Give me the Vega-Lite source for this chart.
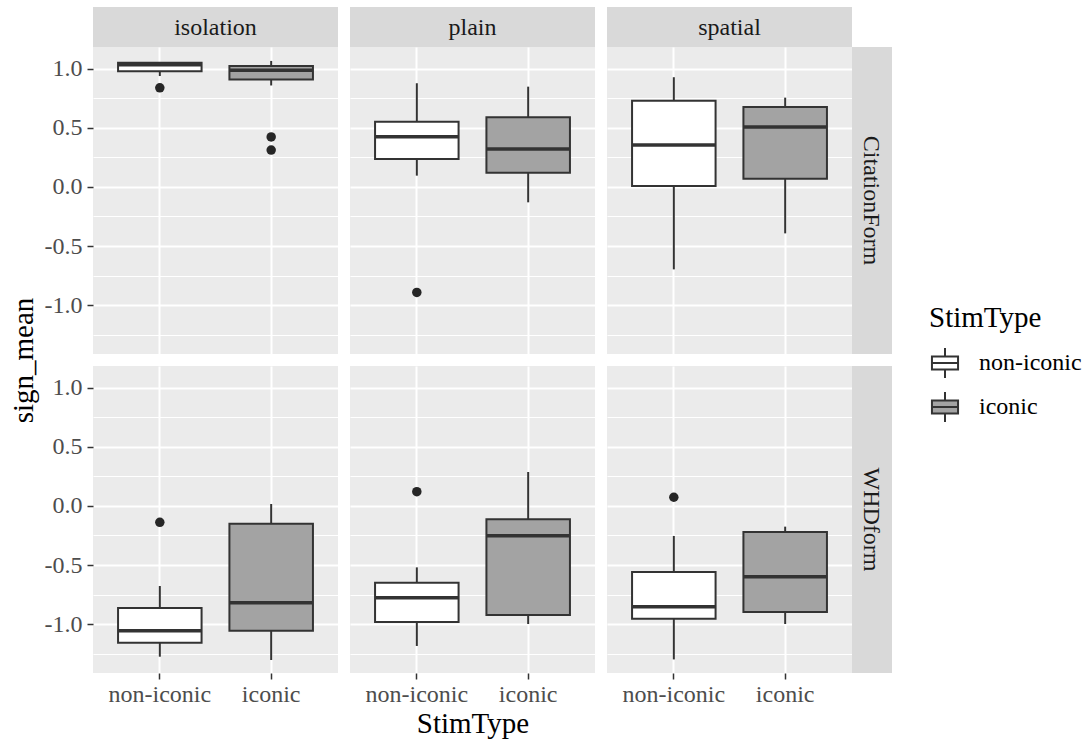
{
"$schema":"https://vega.github.io/schema/vega-lite/v6.json",
"padding":{"left":9,"top":7,"right":5,"bottom":3},
"autosize":{"type":"pad"},
"background":"#ffffff",
"datasets":{
"boxes":[
{"Task":"isolation","Form":"CitationForm","StimType":"non-iconic","lower":0.94,"q1":0.98,"median":1.035,"q3":1.053,"upper":1.053},
{"Task":"isolation","Form":"CitationForm","StimType":"iconic","lower":0.86,"q1":0.91,"median":0.99,"q3":1.025,"upper":1.068},
{"Task":"plain","Form":"CitationForm","StimType":"non-iconic","lower":0.096,"q1":0.237,"median":0.426,"q3":0.553,"upper":0.879},
{"Task":"plain","Form":"CitationForm","StimType":"iconic","lower":-0.13,"q1":0.121,"median":0.322,"q3":0.59,"upper":0.85},
{"Task":"spatial","Form":"CitationForm","StimType":"non-iconic","lower":-0.698,"q1":0.008,"median":0.356,"q3":0.731,"upper":0.93},
{"Task":"spatial","Form":"CitationForm","StimType":"iconic","lower":-0.393,"q1":0.07,"median":0.508,"q3":0.678,"upper":0.757},
{"Task":"isolation","Form":"WHDform","StimType":"non-iconic","lower":-1.277,"q1":-1.158,"median":-1.056,"q3":-0.864,"upper":-0.678},
{"Task":"isolation","Form":"WHDform","StimType":"iconic","lower":-1.305,"q1":-1.056,"median":-0.819,"q3":-0.15,"upper":0.017},
{"Task":"plain","Form":"WHDform","StimType":"non-iconic","lower":-1.186,"q1":-0.983,"median":-0.777,"q3":-0.65,"upper":-0.52},
{"Task":"plain","Form":"WHDform","StimType":"iconic","lower":-1.0,"q1":-0.924,"median":-0.252,"q3":-0.113,"upper":0.288},
{"Task":"spatial","Form":"WHDform","StimType":"non-iconic","lower":-1.3,"q1":-0.955,"median":-0.853,"q3":-0.559,"upper":-0.254},
{"Task":"spatial","Form":"WHDform","StimType":"iconic","lower":-1.0,"q1":-0.898,"median":-0.599,"q3":-0.22,"upper":-0.175}
],
"outliers":[
{"Task":"isolation","Form":"CitationForm","StimType":"non-iconic","sign_mean":0.84},
{"Task":"isolation","Form":"CitationForm","StimType":"iconic","sign_mean":0.424},
{"Task":"isolation","Form":"CitationForm","StimType":"iconic","sign_mean":0.313},
{"Task":"plain","Form":"CitationForm","StimType":"non-iconic","sign_mean":-0.893},
{"Task":"isolation","Form":"WHDform","StimType":"non-iconic","sign_mean":-0.138},
{"Task":"plain","Form":"WHDform","StimType":"non-iconic","sign_mean":0.121},
{"Task":"spatial","Form":"WHDform","StimType":"non-iconic","sign_mean":0.074}
]
},
"columns":6,
"spacing":0,
"bounds":"flush",
"align":"each",
"concat":[
{"width":245,"height":40,"view":{"fill":"#d9d9d9","stroke":null},"data":{"values":[{"label":"isolation"}]},"mark":{"type":"text","font":"Liberation Serif, Times New Roman, serif","fontSize":24,"color":"#1a1a1a","align":"center","baseline":"middle","dy":1},"encoding":{"text":{"field":"label"}}},
{"width":12,"height":12,"data":{"values":[]},"mark":"point"},
{"width":245,"height":40,"view":{"fill":"#d9d9d9","stroke":null},"data":{"values":[{"label":"plain"}]},"mark":{"type":"text","font":"Liberation Serif, Times New Roman, serif","fontSize":24,"color":"#1a1a1a","align":"center","baseline":"middle","dy":1},"encoding":{"text":{"field":"label"}}},
{"width":12,"height":12,"data":{"values":[]},"mark":"point"},
{"width":245,"height":40,"view":{"fill":"#d9d9d9","stroke":null},"data":{"values":[{"label":"spatial"}]},"mark":{"type":"text","font":"Liberation Serif, Times New Roman, serif","fontSize":24,"color":"#1a1a1a","align":"center","baseline":"middle","dy":1},"encoding":{"text":{"field":"label"}}},
{"width":12,"height":12,"data":{"values":[]},"mark":"point"},

{"width":245,"height":307,"view":{"fill":"#ebebeb","stroke":null},
"encoding":{"x":{"field":"StimType","type":"nominal","sort":["non-iconic","iconic"],"scale":{"type":"band","paddingInner":0.25,"paddingOuter":0.225},"axis":{"grid":true,"gridWidth":2,"labels":false,"ticks":false,"title":null,"bandPosition":0.5}}},
"layer":[
{"data":{"name":"boxes"},"transform":[{"filter":"datum.Task=='isolation' && datum.Form=='CitationForm'"}],"mark":{"type":"point","opacity":0},"encoding":{"y":{"field":"median","type":"quantitative","scale":{"domain":[-1.415,1.186],"nice":false,"zero":false},"axis":{"orient":"left","values":[-1.25,-0.75,-0.25,0.25,0.75],"grid":true,"gridWidth":1,"labels":false,"ticks":false,"title":null}}}},
{"data":{"name":"boxes"},"transform":[{"filter":"datum.Task=='isolation' && datum.Form=='CitationForm'"}],"mark":{"type":"rule","color":"#333333","strokeWidth":2},"encoding":{"y":{"field":"lower","type":"quantitative","scale":{"domain":[-1.415,1.186],"nice":false,"zero":false},"axis":{"orient":"left","values":[-1,-0.5,0,0.5,1],"grid":true,"gridWidth":2,"labelExpr":"(datum.value < 0 ? '-' : '') + format(abs(datum.value), '.1f')","title":"sign_mean","titleX":-61,"titleY":313,"titleBaseline":"alphabetic","titleAngle":-90,"titleAlign":"center"}},"y2":{"field":"upper"}}},
{"data":{"name":"boxes"},"transform":[{"filter":"datum.Task=='isolation' && datum.Form=='CitationForm'"}],"mark":{"type":"bar","stroke":"#333333","strokeWidth":2},"encoding":{"y":{"field":"q1","type":"quantitative","scale":{"domain":[-1.415,1.186],"nice":false,"zero":false},"axis":null},"y2":{"field":"q3"},"fill":{"field":"StimType","type":"nominal","sort":["non-iconic","iconic"],"scale":{"domain":["non-iconic","iconic"],"range":["#ffffff","#a3a3a3"]},"legend":{"orient":"none","legendX":836,"legendY":297,"title":"StimType","symbolType":"M-0.87,-0.43H0.87V0.43H-0.87Z M-0.87,0H0.87 M0,-0.43V-1 M0,0.43V1","symbolSize":900,"symbolStrokeColor":"#333333","symbolStrokeWidth":2,"symbolOpacity":1,"titleFont":"Liberation Serif, Times New Roman, serif","titleFontSize":29,"titleFontWeight":"normal","titleColor":"#000000","titlePadding":14,"labelFont":"Liberation Serif, Times New Roman, serif","labelFontSize":24,"labelColor":"#000000","labelOffset":18,"rowPadding":6,"padding":0}}}},
{"data":{"name":"boxes"},"transform":[{"filter":"datum.Task=='isolation' && datum.Form=='CitationForm'"}],"mark":{"type":"tick","color":"#333333","thickness":3.5,"opacity":1},"encoding":{"y":{"field":"median","type":"quantitative","scale":{"domain":[-1.415,1.186],"nice":false,"zero":false},"axis":null}}},
{"data":{"name":"outliers"},"transform":[{"filter":"datum.Task=='isolation' && datum.Form=='CitationForm'"}],"mark":{"type":"point","filled":true,"color":"#262626","opacity":1,"size":90},"encoding":{"y":{"field":"sign_mean","type":"quantitative","scale":{"domain":[-1.415,1.186],"nice":false,"zero":false},"axis":null}}}
],
"resolve":{"axis":{"y":"independent"}}},

{"width":12,"height":12,"data":{"values":[]},"mark":"point"},

{"width":245,"height":307,"view":{"fill":"#ebebeb","stroke":null},
"encoding":{"x":{"field":"StimType","type":"nominal","sort":["non-iconic","iconic"],"scale":{"type":"band","paddingInner":0.25,"paddingOuter":0.225},"axis":{"grid":true,"gridWidth":2,"labels":false,"ticks":false,"title":null,"bandPosition":0.5}}},
"layer":[
{"data":{"name":"boxes"},"transform":[{"filter":"datum.Task=='plain' && datum.Form=='CitationForm'"}],"mark":{"type":"point","opacity":0},"encoding":{"y":{"field":"median","type":"quantitative","scale":{"domain":[-1.415,1.186],"nice":false,"zero":false},"axis":{"orient":"left","values":[-1.25,-0.75,-0.25,0.25,0.75],"grid":true,"gridWidth":1,"labels":false,"ticks":false,"title":null}}}},
{"data":{"name":"boxes"},"transform":[{"filter":"datum.Task=='plain' && datum.Form=='CitationForm'"}],"mark":{"type":"rule","color":"#333333","strokeWidth":2},"encoding":{"y":{"field":"lower","type":"quantitative","scale":{"domain":[-1.415,1.186],"nice":false,"zero":false},"axis":{"orient":"left","values":[-1,-0.5,0,0.5,1],"grid":true,"gridWidth":2,"labels":false,"ticks":false,"title":null}},"y2":{"field":"upper"}}},
{"data":{"name":"boxes"},"transform":[{"filter":"datum.Task=='plain' && datum.Form=='CitationForm'"}],"mark":{"type":"bar","stroke":"#333333","strokeWidth":2},"encoding":{"y":{"field":"q1","type":"quantitative","scale":{"domain":[-1.415,1.186],"nice":false,"zero":false},"axis":null},"y2":{"field":"q3"},"fill":{"field":"StimType","type":"nominal","sort":["non-iconic","iconic"],"scale":{"domain":["non-iconic","iconic"],"range":["#ffffff","#a3a3a3"]},"legend":{"orient":"none","legendX":836,"legendY":297,"title":"StimType","symbolType":"M-0.87,-0.43H0.87V0.43H-0.87Z M-0.87,0H0.87 M0,-0.43V-1 M0,0.43V1","symbolSize":900,"symbolStrokeColor":"#333333","symbolStrokeWidth":2,"symbolOpacity":1,"titleFont":"Liberation Serif, Times New Roman, serif","titleFontSize":29,"titleFontWeight":"normal","titleColor":"#000000","titlePadding":14,"labelFont":"Liberation Serif, Times New Roman, serif","labelFontSize":24,"labelColor":"#000000","labelOffset":18,"rowPadding":6,"padding":0}}}},
{"data":{"name":"boxes"},"transform":[{"filter":"datum.Task=='plain' && datum.Form=='CitationForm'"}],"mark":{"type":"tick","color":"#333333","thickness":3.5,"opacity":1},"encoding":{"y":{"field":"median","type":"quantitative","scale":{"domain":[-1.415,1.186],"nice":false,"zero":false},"axis":null}}},
{"data":{"name":"outliers"},"transform":[{"filter":"datum.Task=='plain' && datum.Form=='CitationForm'"}],"mark":{"type":"point","filled":true,"color":"#262626","opacity":1,"size":90},"encoding":{"y":{"field":"sign_mean","type":"quantitative","scale":{"domain":[-1.415,1.186],"nice":false,"zero":false},"axis":null}}}
],
"resolve":{"axis":{"y":"independent"}}},

{"width":12,"height":12,"data":{"values":[]},"mark":"point"},

{"width":245,"height":307,"view":{"fill":"#ebebeb","stroke":null},
"encoding":{"x":{"field":"StimType","type":"nominal","sort":["non-iconic","iconic"],"scale":{"type":"band","paddingInner":0.25,"paddingOuter":0.225},"axis":{"grid":true,"gridWidth":2,"labels":false,"ticks":false,"title":null,"bandPosition":0.5}}},
"layer":[
{"data":{"name":"boxes"},"transform":[{"filter":"datum.Task=='spatial' && datum.Form=='CitationForm'"}],"mark":{"type":"point","opacity":0},"encoding":{"y":{"field":"median","type":"quantitative","scale":{"domain":[-1.415,1.186],"nice":false,"zero":false},"axis":{"orient":"left","values":[-1.25,-0.75,-0.25,0.25,0.75],"grid":true,"gridWidth":1,"labels":false,"ticks":false,"title":null}}}},
{"data":{"name":"boxes"},"transform":[{"filter":"datum.Task=='spatial' && datum.Form=='CitationForm'"}],"mark":{"type":"rule","color":"#333333","strokeWidth":2},"encoding":{"y":{"field":"lower","type":"quantitative","scale":{"domain":[-1.415,1.186],"nice":false,"zero":false},"axis":{"orient":"left","values":[-1,-0.5,0,0.5,1],"grid":true,"gridWidth":2,"labels":false,"ticks":false,"title":null}},"y2":{"field":"upper"}}},
{"data":{"name":"boxes"},"transform":[{"filter":"datum.Task=='spatial' && datum.Form=='CitationForm'"}],"mark":{"type":"bar","stroke":"#333333","strokeWidth":2},"encoding":{"y":{"field":"q1","type":"quantitative","scale":{"domain":[-1.415,1.186],"nice":false,"zero":false},"axis":null},"y2":{"field":"q3"},"fill":{"field":"StimType","type":"nominal","sort":["non-iconic","iconic"],"scale":{"domain":["non-iconic","iconic"],"range":["#ffffff","#a3a3a3"]},"legend":{"orient":"none","legendX":836,"legendY":297,"title":"StimType","symbolType":"M-0.87,-0.43H0.87V0.43H-0.87Z M-0.87,0H0.87 M0,-0.43V-1 M0,0.43V1","symbolSize":900,"symbolStrokeColor":"#333333","symbolStrokeWidth":2,"symbolOpacity":1,"titleFont":"Liberation Serif, Times New Roman, serif","titleFontSize":29,"titleFontWeight":"normal","titleColor":"#000000","titlePadding":14,"labelFont":"Liberation Serif, Times New Roman, serif","labelFontSize":24,"labelColor":"#000000","labelOffset":18,"rowPadding":6,"padding":0}}}},
{"data":{"name":"boxes"},"transform":[{"filter":"datum.Task=='spatial' && datum.Form=='CitationForm'"}],"mark":{"type":"tick","color":"#333333","thickness":3.5,"opacity":1},"encoding":{"y":{"field":"median","type":"quantitative","scale":{"domain":[-1.415,1.186],"nice":false,"zero":false},"axis":null}}},
{"data":{"name":"outliers"},"transform":[{"filter":"datum.Task=='spatial' && datum.Form=='CitationForm'"}],"mark":{"type":"point","filled":true,"color":"#262626","opacity":1,"size":90},"encoding":{"y":{"field":"sign_mean","type":"quantitative","scale":{"domain":[-1.415,1.186],"nice":false,"zero":false},"axis":null}}}
],
"resolve":{"axis":{"y":"independent"}}},

{"width":40,"height":307,"view":{"fill":"#d9d9d9","stroke":null},"data":{"values":[{"label":"CitationForm"}]},"mark":{"type":"text","font":"Liberation Serif, Times New Roman, serif","fontSize":24,"color":"#1a1a1a","align":"center","baseline":"middle","angle":90,"dy":1},"encoding":{"text":{"field":"label"}}},

{"width":12,"height":12,"data":{"values":[]},"mark":"point"},
{"width":12,"height":12,"data":{"values":[]},"mark":"point"},
{"width":12,"height":12,"data":{"values":[]},"mark":"point"},
{"width":12,"height":12,"data":{"values":[]},"mark":"point"},
{"width":12,"height":12,"data":{"values":[]},"mark":"point"},
{"width":12,"height":12,"data":{"values":[]},"mark":"point"},

{"width":245,"height":307,"view":{"fill":"#ebebeb","stroke":null},
"encoding":{"x":{"field":"StimType","type":"nominal","sort":["non-iconic","iconic"],"scale":{"type":"band","paddingInner":0.25,"paddingOuter":0.225},"axis":{"grid":true,"gridWidth":2,"title":null,"bandPosition":0.5,"labelAngle":0,"labelPadding":3}}},
"layer":[
{"data":{"name":"boxes"},"transform":[{"filter":"datum.Task=='isolation' && datum.Form=='WHDform'"}],"mark":{"type":"point","opacity":0},"encoding":{"y":{"field":"median","type":"quantitative","scale":{"domain":[-1.415,1.186],"nice":false,"zero":false},"axis":{"orient":"left","values":[-1.25,-0.75,-0.25,0.25,0.75],"grid":true,"gridWidth":1,"labels":false,"ticks":false,"title":null}}}},
{"data":{"name":"boxes"},"transform":[{"filter":"datum.Task=='isolation' && datum.Form=='WHDform'"}],"mark":{"type":"rule","color":"#333333","strokeWidth":2},"encoding":{"y":{"field":"lower","type":"quantitative","scale":{"domain":[-1.415,1.186],"nice":false,"zero":false},"axis":{"orient":"left","values":[-1,-0.5,0,0.5,1],"grid":true,"gridWidth":2,"labelExpr":"(datum.value < 0 ? '-' : '') + format(abs(datum.value), '.1f')","title":null}},"y2":{"field":"upper"}}},
{"data":{"name":"boxes"},"transform":[{"filter":"datum.Task=='isolation' && datum.Form=='WHDform'"}],"mark":{"type":"bar","stroke":"#333333","strokeWidth":2},"encoding":{"y":{"field":"q1","type":"quantitative","scale":{"domain":[-1.415,1.186],"nice":false,"zero":false},"axis":null},"y2":{"field":"q3"},"fill":{"field":"StimType","type":"nominal","sort":["non-iconic","iconic"],"scale":{"domain":["non-iconic","iconic"],"range":["#ffffff","#a3a3a3"]},"legend":{"orient":"none","legendX":836,"legendY":297,"title":"StimType","symbolType":"M-0.87,-0.43H0.87V0.43H-0.87Z M-0.87,0H0.87 M0,-0.43V-1 M0,0.43V1","symbolSize":900,"symbolStrokeColor":"#333333","symbolStrokeWidth":2,"symbolOpacity":1,"titleFont":"Liberation Serif, Times New Roman, serif","titleFontSize":29,"titleFontWeight":"normal","titleColor":"#000000","titlePadding":14,"labelFont":"Liberation Serif, Times New Roman, serif","labelFontSize":24,"labelColor":"#000000","labelOffset":18,"rowPadding":6,"padding":0}}}},
{"data":{"name":"boxes"},"transform":[{"filter":"datum.Task=='isolation' && datum.Form=='WHDform'"}],"mark":{"type":"tick","color":"#333333","thickness":3.5,"opacity":1},"encoding":{"y":{"field":"median","type":"quantitative","scale":{"domain":[-1.415,1.186],"nice":false,"zero":false},"axis":null}}},
{"data":{"name":"outliers"},"transform":[{"filter":"datum.Task=='isolation' && datum.Form=='WHDform'"}],"mark":{"type":"point","filled":true,"color":"#262626","opacity":1,"size":90},"encoding":{"y":{"field":"sign_mean","type":"quantitative","scale":{"domain":[-1.415,1.186],"nice":false,"zero":false},"axis":null}}}
],
"resolve":{"axis":{"y":"independent"}}},

{"width":12,"height":12,"data":{"values":[]},"mark":"point"},

{"width":245,"height":307,"view":{"fill":"#ebebeb","stroke":null},
"encoding":{"x":{"field":"StimType","type":"nominal","sort":["non-iconic","iconic"],"scale":{"type":"band","paddingInner":0.25,"paddingOuter":0.225},"axis":{"grid":true,"gridWidth":2,"title":"StimType","titlePadding":3,"bandPosition":0.5,"labelAngle":0,"labelPadding":3}}},
"layer":[
{"data":{"name":"boxes"},"transform":[{"filter":"datum.Task=='plain' && datum.Form=='WHDform'"}],"mark":{"type":"point","opacity":0},"encoding":{"y":{"field":"median","type":"quantitative","scale":{"domain":[-1.415,1.186],"nice":false,"zero":false},"axis":{"orient":"left","values":[-1.25,-0.75,-0.25,0.25,0.75],"grid":true,"gridWidth":1,"labels":false,"ticks":false,"title":null}}}},
{"data":{"name":"boxes"},"transform":[{"filter":"datum.Task=='plain' && datum.Form=='WHDform'"}],"mark":{"type":"rule","color":"#333333","strokeWidth":2},"encoding":{"y":{"field":"lower","type":"quantitative","scale":{"domain":[-1.415,1.186],"nice":false,"zero":false},"axis":{"orient":"left","values":[-1,-0.5,0,0.5,1],"grid":true,"gridWidth":2,"labels":false,"ticks":false,"title":null}},"y2":{"field":"upper"}}},
{"data":{"name":"boxes"},"transform":[{"filter":"datum.Task=='plain' && datum.Form=='WHDform'"}],"mark":{"type":"bar","stroke":"#333333","strokeWidth":2},"encoding":{"y":{"field":"q1","type":"quantitative","scale":{"domain":[-1.415,1.186],"nice":false,"zero":false},"axis":null},"y2":{"field":"q3"},"fill":{"field":"StimType","type":"nominal","sort":["non-iconic","iconic"],"scale":{"domain":["non-iconic","iconic"],"range":["#ffffff","#a3a3a3"]},"legend":{"orient":"none","legendX":836,"legendY":297,"title":"StimType","symbolType":"M-0.87,-0.43H0.87V0.43H-0.87Z M-0.87,0H0.87 M0,-0.43V-1 M0,0.43V1","symbolSize":900,"symbolStrokeColor":"#333333","symbolStrokeWidth":2,"symbolOpacity":1,"titleFont":"Liberation Serif, Times New Roman, serif","titleFontSize":29,"titleFontWeight":"normal","titleColor":"#000000","titlePadding":14,"labelFont":"Liberation Serif, Times New Roman, serif","labelFontSize":24,"labelColor":"#000000","labelOffset":18,"rowPadding":6,"padding":0}}}},
{"data":{"name":"boxes"},"transform":[{"filter":"datum.Task=='plain' && datum.Form=='WHDform'"}],"mark":{"type":"tick","color":"#333333","thickness":3.5,"opacity":1},"encoding":{"y":{"field":"median","type":"quantitative","scale":{"domain":[-1.415,1.186],"nice":false,"zero":false},"axis":null}}},
{"data":{"name":"outliers"},"transform":[{"filter":"datum.Task=='plain' && datum.Form=='WHDform'"}],"mark":{"type":"point","filled":true,"color":"#262626","opacity":1,"size":90},"encoding":{"y":{"field":"sign_mean","type":"quantitative","scale":{"domain":[-1.415,1.186],"nice":false,"zero":false},"axis":null}}}
],
"resolve":{"axis":{"y":"independent"}}},

{"width":12,"height":12,"data":{"values":[]},"mark":"point"},

{"width":245,"height":307,"view":{"fill":"#ebebeb","stroke":null},
"encoding":{"x":{"field":"StimType","type":"nominal","sort":["non-iconic","iconic"],"scale":{"type":"band","paddingInner":0.25,"paddingOuter":0.225},"axis":{"grid":true,"gridWidth":2,"title":null,"bandPosition":0.5,"labelAngle":0,"labelPadding":3}}},
"layer":[
{"data":{"name":"boxes"},"transform":[{"filter":"datum.Task=='spatial' && datum.Form=='WHDform'"}],"mark":{"type":"point","opacity":0},"encoding":{"y":{"field":"median","type":"quantitative","scale":{"domain":[-1.415,1.186],"nice":false,"zero":false},"axis":{"orient":"left","values":[-1.25,-0.75,-0.25,0.25,0.75],"grid":true,"gridWidth":1,"labels":false,"ticks":false,"title":null}}}},
{"data":{"name":"boxes"},"transform":[{"filter":"datum.Task=='spatial' && datum.Form=='WHDform'"}],"mark":{"type":"rule","color":"#333333","strokeWidth":2},"encoding":{"y":{"field":"lower","type":"quantitative","scale":{"domain":[-1.415,1.186],"nice":false,"zero":false},"axis":{"orient":"left","values":[-1,-0.5,0,0.5,1],"grid":true,"gridWidth":2,"labels":false,"ticks":false,"title":null}},"y2":{"field":"upper"}}},
{"data":{"name":"boxes"},"transform":[{"filter":"datum.Task=='spatial' && datum.Form=='WHDform'"}],"mark":{"type":"bar","stroke":"#333333","strokeWidth":2},"encoding":{"y":{"field":"q1","type":"quantitative","scale":{"domain":[-1.415,1.186],"nice":false,"zero":false},"axis":null},"y2":{"field":"q3"},"fill":{"field":"StimType","type":"nominal","sort":["non-iconic","iconic"],"scale":{"domain":["non-iconic","iconic"],"range":["#ffffff","#a3a3a3"]},"legend":{"orient":"none","legendX":836,"legendY":297,"title":"StimType","symbolType":"M-0.87,-0.43H0.87V0.43H-0.87Z M-0.87,0H0.87 M0,-0.43V-1 M0,0.43V1","symbolSize":900,"symbolStrokeColor":"#333333","symbolStrokeWidth":2,"symbolOpacity":1,"titleFont":"Liberation Serif, Times New Roman, serif","titleFontSize":29,"titleFontWeight":"normal","titleColor":"#000000","titlePadding":14,"labelFont":"Liberation Serif, Times New Roman, serif","labelFontSize":24,"labelColor":"#000000","labelOffset":18,"rowPadding":6,"padding":0}}}},
{"data":{"name":"boxes"},"transform":[{"filter":"datum.Task=='spatial' && datum.Form=='WHDform'"}],"mark":{"type":"tick","color":"#333333","thickness":3.5,"opacity":1},"encoding":{"y":{"field":"median","type":"quantitative","scale":{"domain":[-1.415,1.186],"nice":false,"zero":false},"axis":null}}},
{"data":{"name":"outliers"},"transform":[{"filter":"datum.Task=='spatial' && datum.Form=='WHDform'"}],"mark":{"type":"point","filled":true,"color":"#262626","opacity":1,"size":90},"encoding":{"y":{"field":"sign_mean","type":"quantitative","scale":{"domain":[-1.415,1.186],"nice":false,"zero":false},"axis":null}}}
],
"resolve":{"axis":{"y":"independent"}}},

{"width":40,"height":307,"view":{"fill":"#d9d9d9","stroke":null},"data":{"values":[{"label":"WHDform"}]},"mark":{"type":"text","font":"Liberation Serif, Times New Roman, serif","fontSize":24,"color":"#1a1a1a","align":"center","baseline":"middle","angle":90,"dy":1},"encoding":{"text":{"field":"label"}}}
],
"config":{
"font":"Liberation Serif, Times New Roman, serif",
"view":{"stroke":null},
"text":{"font":"Liberation Serif, Times New Roman, serif"},
"axis":{"domain":false,"gridColor":"#ffffff","tickColor":"#333333","tickSize":6,"tickWidth":1.5,"labelFont":"Liberation Serif, Times New Roman, serif","labelFontSize":24,"labelColor":"#4d4d4d","labelPadding":5,"titleFont":"Liberation Serif, Times New Roman, serif","titleFontSize":29,"titleFontWeight":"normal","titleColor":"#000000"},
"legend":{"titleFontWeight":"normal","titleFont":"Liberation Serif, Times New Roman, serif","labelFont":"Liberation Serif, Times New Roman, serif"}
}
}
